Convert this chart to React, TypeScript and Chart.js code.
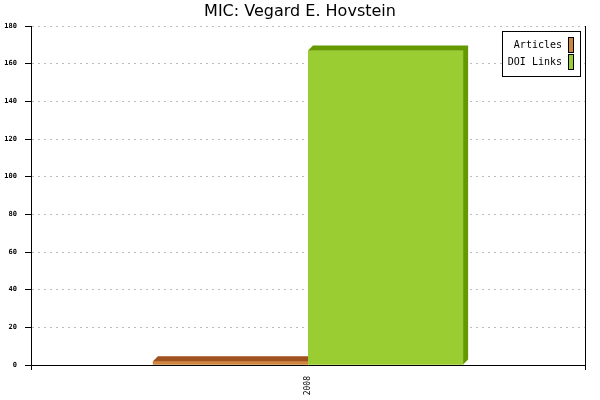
import React, { useEffect, useRef } from 'react';
import { Chart, registerables } from 'chart.js';

Chart.register(...registerables);

// Chart data
const categories = ['2008'];
const seriesNames = ['Articles', 'DOI Links'];
const articles = [2];
const doiLinks = [167];
const frontColors = ['#CD853F', '#9ACD32'];
const shadeColors = ['#A0521E', '#669900'];
const chartTitle = 'MIC: Vegard E. Hovstein';

const DEPTH = 5;

// draws a 3D top and side on every bar, dataset by dataset
const bar3d = {
  id: 'bar3d',
  afterDatasetsDraw(chart: any) {
    const ctx = chart.ctx;
    const area = chart.chartArea;
    ctx.save();
    ctx.beginPath();
    ctx.rect(area.left, area.top - DEPTH - 2, area.right - area.left + DEPTH + 2, area.bottom - area.top + DEPTH + 2);
    ctx.clip();
    chart.data.datasets.forEach((ds: any, i: number) => {
      const meta = chart.getDatasetMeta(i);
      meta.data.forEach((bar: any) => {
        const { x, y, base, width } = bar.getProps(['x', 'y', 'base', 'width'], true);
        const l = x - width / 2;
        const r = x + width / 2;
        ctx.fillStyle = ds.backgroundColor;
        ctx.fillRect(l, y, width, base - y);
        ctx.fillStyle = shadeColors[i];
        ctx.beginPath();
        ctx.moveTo(l, y);
        ctx.lineTo(l + DEPTH, y - DEPTH);
        ctx.lineTo(r + DEPTH, y - DEPTH);
        ctx.lineTo(r + DEPTH, base - DEPTH);
        ctx.lineTo(r, base);
        ctx.lineTo(r, y);
        ctx.closePath();
        ctx.fill();
      });
    });
    ctx.restore();
  },
};

// title and boxed legend (swatches to the right of the text)
const decorations = {
  id: 'decorations',
  afterDraw(chart: any) {
    const ctx = chart.ctx;
    ctx.save();
    ctx.fillStyle = '#000';
    ctx.font = '16px "DejaVu Sans"';
    ctx.textAlign = 'center';
    ctx.textBaseline = 'alphabetic';
    ctx.fillText(chartTitle, 300, 16);

    const boxL = 502.5;
    const boxT = 31.5;
    const boxW = 78;
    const boxH = 45;
    ctx.fillStyle = '#fff';
    ctx.fillRect(boxL, boxT, boxW, boxH);
    ctx.strokeStyle = '#000';
    ctx.lineWidth = 1;
    ctx.strokeRect(boxL, boxT, boxW, boxH);

    ctx.font = '10px "DejaVu Sans Mono"';
    ctx.textAlign = 'right';
    ctx.textBaseline = 'middle';
    chart.data.datasets.forEach((ds: any, i: number) => {
      const cy = 45 + i * 17;
      ctx.fillStyle = '#000';
      ctx.fillText(ds.label, 562, cy);
      ctx.fillStyle = ds.backgroundColor;
      ctx.fillRect(568.5, cy - 7.5, 5, 15);
      ctx.strokeRect(568.5, cy - 7.5, 5, 15);
    });
    ctx.restore();
  },
};

const App: React.FC = () => {
  const chartRef = useRef<HTMLCanvasElement | null>(null);

  useEffect(() => {
    if (!chartRef.current) return;
    const chart = new Chart(chartRef.current, {
      type: 'bar',
      data: {
        labels: categories,
        datasets: [
          { label: seriesNames[0], data: articles, backgroundColor: frontColors[0] },
          { label: seriesNames[1], data: doiLinks, backgroundColor: frontColors[1] },
        ],
      },
      options: {
        responsive: false,
        animation: false,
        layout: { padding: { top: 26, right: 15, left: 0, bottom: 0 } },
        datasets: {
          bar: { categoryPercentage: 0.56, barPercentage: 1 },
        },
        plugins: {
          legend: { display: false },
          title: { display: false },
          tooltip: { enabled: false },
        },
        scales: {
          x: {
            grid: { color: '#000', offset: true, tickLength: 5, drawOnChartArea: true },
            border: { color: '#000' },
            ticks: {
              color: '#000',
              minRotation: 90,
              maxRotation: 90,
              padding: 6,
              font: { family: '"DejaVu Sans Mono"', size: 8 },
            },
            afterFit: (scale: any) => {
              scale.height = 35;
            },
          },
          y: {
            min: 0,
            max: 180,
            ticks: {
              stepSize: 20,
              color: '#000',
              padding: 8,
              font: { family: '"DejaVu Sans Mono"', size: 7, weight: 'bold' },
            },
            grid: { color: '#bbb', tickColor: '#000', tickLength: 6 },
            border: { color: '#000', dash: [2, 4] },
            afterFit: (scale: any) => {
              scale.width = 31;
            },
          },
        },
      },
      plugins: [bar3d, decorations],
    });
    return () => chart.destroy();
  }, []);

  return (
    <div style={{ position: 'absolute', left: 0, top: 0, width: 600, height: 400, background: '#fff' }}>
      <canvas ref={chartRef} width={600} height={400}></canvas>
    </div>
  );
};

export default App;
